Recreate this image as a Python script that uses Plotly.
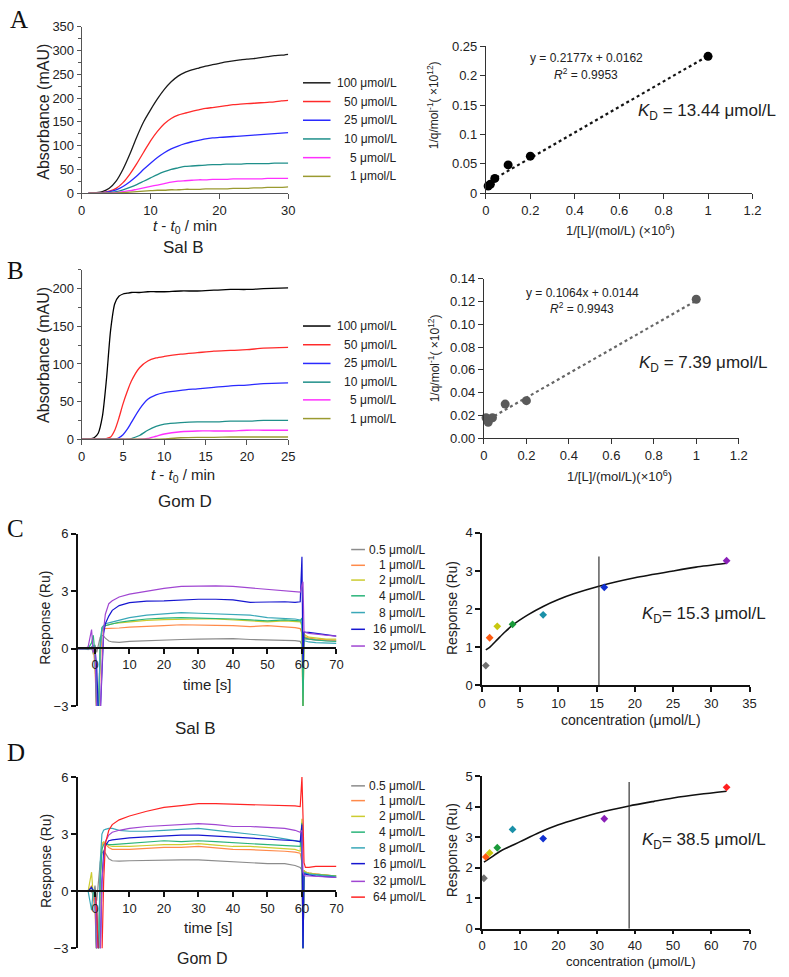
import plotly.graph_objects as go

W, H = 789, 977
def px(x): return x / W
def py(y): return 1 - y / H

# ---------------- DATA ----------------
# Panel A (Sal B, absorbance kinetics)
tA = list(range(1, 31))
A_labels = ["100 μmol/L", "50 μmol/L", "25 μmol/L", "10 μmol/L", "5 μmol/L", "1 μmol/L"]
A_100 = [0,1,3,10,25,50,82,118,150,175,198,218,234,246,254,259,263,267,270,273,276,278,280,282,283,285,287,289,290,292]
A_50  = [0,0,1,4,10,22,40,62,86,110,130,146,157,164,168,172,175,178,180,182,184,186,187,188,189,190,191,192,194,195]
A_25  = [0,0,1,3,7,14,24,36,50,63,75,85,93,99,104,108,111,114,116,117,118,119,120,121,122,123,124,125,126,127]
A_10  = [0,0,0,1,3,7,12,18,25,32,39,45,50,53,56,57,58,59,60,60,61,61,61,62,62,62,62,63,63,63]
A_5   = [0,0,0,0,1,3,5,8,11,14,17,20,23,25,26,27,28,28,29,29,29,30,30,30,30,30,31,31,31,31]
A_1   = [0,0,0,0,0,1,2,3,4,5,6,6,7,7,8,8,8,9,9,9,9,10,10,10,11,11,12,12,12,13]

# Panel A right (double reciprocal)
A_invL = [0.01, 0.02, 0.04, 0.1, 0.2, 1.0]
A_invq = [0.012, 0.015, 0.025, 0.048, 0.063, 0.233]
A_fit_x = [0.0, 1.0]
A_fit_y = [0.0162, 0.2339]

# Panel B (Gom D, absorbance kinetics)
tB = [0,1,1.5,2,2.5,3,3.5,4,4.5,5,5.5,6,7,8,9,10,12,14,16,18,20,22,25]
B_100 = [0,0.5,2,8,30,80,145,180,190,193,194,195,195,196,196,196,197,197,198,199,199,200,201]
B_50  = [0,0,0,0,0,1,3,12,28,47,63,77,95,104,108,110,113,115,117,118,119,121,122]
B_25  = [0,0,0,0,0,0,0,0,2,6,13,22,40,53,59,62,65,67,69,71,72,74,75]
B_10  = [0,0,0,0,0,0,0,0,0,0,0,1,5,12,17,20,22,23,23,24,24,25,25]
B_5   = [0,0,0,0,0,0,0,0,0,0,0,0,0,1,4,7,10,11,11,11,12,12,12]
B_1   = [0,0,0,0,0,0,0,0,0,0,0,0,0,0,0,0.5,2,2.5,2.5,3,3,3,3]

B_invL = [0.01, 0.02, 0.04, 0.1, 0.2, 1.0]
B_invq = [0.018, 0.014, 0.018, 0.030, 0.033, 0.122]
B_fit_x = [0.0, 1.0]
B_fit_y = [0.0144, 0.1208]

# Panel C (Sal B, SPR)
tS = [-5,-3,-2,-1,-0.5,0,0.5,1,1.5,2,2.5,3,4,5,7,10,15,20,25,30,35,40,45,50,55,58,59.5,60,60.3,60.6,61,62,64,67,70]
C_labels = ["0.5 μmol/L", "1 μmol/L", "2 μmol/L", "4 μmol/L", "8 μmol/L", "16 μmol/L", "32 μmol/L"]
C_05 = [0,0,-0.05,0.1,-0.3, 0.2,-0.2,0.3,0.6,0.7, 0.65,0.55,0.4,0.35,0.33, 0.38,0.42,0.45,0.48,0.5, 0.5,0.52,0.48,0.47,0.45, 0.42,0.38,0.2,-0.2,0.5, 0.5,0.5,0.45,0.42,0.4]
C_1  = [0,0,0,0,0.1, -1,-3.5,-3.5,-1,0.9, 1.05,1.05,1.05,1.05,1.08, 1.12,1.15,1.2,1.25,1.22, 1.22,1.2,1.15,1.2,1.15, 1.1,1.05,0.8,-3.5,0.7, 0.6,0.55,0.5,0.48,0.45]
C_2  = [0,0,0,0,0, -0.5,-3.5,-3.5,0,1.0, 1.15,1.2,1.25,1.3,1.35, 1.4,1.48,1.52,1.55,1.55, 1.55,1.5,1.45,1.4,1.45, 1.42,1.4,1.2,-3.5,0.8, 0.7,0.6,0.55,0.5,0.5]
C_4  = [0,0,0,0.3,0.7, -0.3,-3.5,-3.5,0.3,1.1, 1.2,1.2,1.25,1.3,1.38, 1.45,1.55,1.6,1.62,1.6, 1.58,1.55,1.5,1.45,1.5, 1.45,1.45,1.6,-3.5,0.6, 0.55,0.5,0.45,0.4,0.38]
C_8  = [0,0,0,0,0.2, -0.2,-2,-3.5,0,1.0, 1.2,1.3,1.35,1.4,1.5, 1.62,1.75,1.82,1.88,1.85, 1.82,1.8,1.75,1.62,1.6, 1.55,1.5,1.3,0.5,0.4, 0.4,0.35,0.32,0.3,0.28]
C_16 = [0,0,0,0,0, 0,-1,-3.5,-3.5,-1, 0.8,1.3,1.7,2.0,2.25, 2.4,2.48,2.5,2.55,2.58, 2.58,2.55,2.42,2.45,2.45, 2.42,2.45,4.8,-1,0.9, 0.85,0.85,0.8,0.7,0.65]
C_32 = [0,0,0.1,1.0,-0.2, 0,-3.5,-3.5,-3.5,-1, 1.0,1.8,2.35,2.5,2.7, 2.85,3.0,3.15,3.25,3.28, 3.28,3.25,3.18,3.1,3.05, 3.0,2.95,3.3,3.5,0.9, 0.85,0.8,0.75,0.7,0.65]

C_conc = [0.5, 1, 2, 4, 8, 16, 32]
C_resp = [0.52, 1.25, 1.55, 1.6, 1.85, 2.57, 3.27]
C_fit_x = [0.5,1,2,3,4,6,8,10,12,15.3,20,25,28,32]
C_fit_y = [0.93,1.0,1.2,1.4,1.58,1.85,2.07,2.25,2.4,2.6,2.82,3.0,3.1,3.2]
C_KD = 15.3
C_KD_top = 3.38

# Panel D (Gom D, SPR)
D_labels = ["0.5 μmol/L", "1 μmol/L", "2 μmol/L", "4 μmol/L", "8 μmol/L", "16 μmol/L", "32 μmol/L", "64 μmol/L"]
D_05 = [0,0,0,0,-0.2, 0.3,-0.5,0.5,1.5,2.0, 2.1,2.0,1.7,1.6,1.58, 1.6,1.62,1.65,1.65,1.65, 1.6,1.55,1.5,1.45,1.45, 1.35,1.25,1.1,0.9,1.0, 1.0,0.95,0.9,0.85,0.8]
D_1  = [0,0,0,0.3,-0.5, -1,-3.5,-3.5,0.5,2.4, 2.55,2.45,2.3,2.2,2.2, 2.2,2.25,2.3,2.3,2.35, 2.28,2.2,2.18,2.15,2.1, 2.05,2.0,1.5,-3.5,1.1, 1.0,0.95,0.9,0.85,0.8]
D_2  = [0,0,0,1.0,-0.3, 0,-3.5,-3.5,0.8,2.5, 2.6,2.55,2.4,2.35,2.35, 2.35,2.4,2.45,2.45,2.5, 2.42,2.35,2.35,2.3,2.25, 2.2,2.1,3.8,-3.5,1.1, 1.0,0.95,0.9,0.85,0.8]
D_4  = [0,0,0,0.2,0, -0.5,-3.5,-3.5,0.5,2.2, 2.45,2.5,2.45,2.45,2.48, 2.5,2.58,2.65,2.6,2.65, 2.6,2.55,2.5,2.45,2.4, 2.38,2.35,3.6,-3.5,1.0, 0.95,0.9,0.88,0.85,0.8]
D_8  = [0,0,0,-1.0,0.1, 0,-3.5,-3.5,1.5,3.0, 3.2,3.25,3.3,3.3,3.2, 3.15,3.15,3.2,3.25,3.3, 3.2,3.1,3.0,2.9,2.75, 2.65,2.6,3.0,-3.5,1.0, 0.95,0.9,0.85,0.8,0.75]
D_16 = [0,0,0,0.2,0, 0,-1,-3.5,-3.5,0.5, 2.0,2.4,2.65,2.7,2.75, 2.8,2.85,2.9,2.95,2.95, 2.9,2.85,2.8,2.75,2.7, 2.65,2.6,3.5,-3.5,0.9, 0.9,0.85,0.8,0.75,0.72]
D_32 = [0,0,0,0,0, 0,-3.5,-3.5,-3.5,0.5, 1.8,2.6,2.95,3.1,3.2, 3.3,3.4,3.45,3.5,3.55, 3.5,3.4,3.4,3.35,3.3, 3.2,3.1,3.2,1.0,0.85, 0.8,0.8,0.78,0.75,0.72]
D_64 = [0,0,0,0,0, 0,-1,-3.5,-3.5,-3.5, 0.5,2.5,3.2,3.5,3.75, 3.95,4.2,4.4,4.5,4.6, 4.6,4.58,4.55,4.55,4.5, 4.48,4.45,6.0,4.0,1.5, 1.25,1.25,1.3,1.3,1.3]

D_conc = [0.5, 1, 2, 4, 8, 16, 32, 64]
D_resp = [1.65, 2.35, 2.48, 2.65, 3.25, 2.95, 3.6, 4.63]
D_fit_x = [0.5,2,5,10,15,20,25,30,38.5,45,50,57,64]
D_fit_y = [2.18,2.3,2.55,2.85,3.15,3.4,3.6,3.78,4.02,4.17,4.28,4.4,4.5]
D_KD = 38.5
D_KD_top = 4.8

# ---------------- STYLE ----------------
AB_cols = ["#1a1a1a", "#ff2a2a", "#2a2aff", "#1f8f8a", "#ff30ff", "#9a9a30"]
SPR_cols = ["#8c8c8c", "#ff8a4a", "#cccc30", "#2ab47a", "#3aa8b8", "#1616d0", "#a046d2", "#ff2424"]
PT_cols = ["#707070", "#ff5a10", "#c8c810", "#1a9a3a", "#1a90a8", "#1030d0", "#8a20b8", "#ff2020"]

FONT = "Liberation Sans, Arial, sans-serif"
fig = go.Figure()

def add_line(x, y, ax, color, width=1.3, dash=None, shape="linear"):
    fig.add_trace(go.Scatter(x=x, y=y, mode="lines", xaxis="x" + ax, yaxis="y" + ax,
                             line=dict(color=color, width=width, dash=dash, shape=shape, smoothing=0.7),
                             showlegend=False, hoverinfo="skip"))

def add_pts(x, y, ax, color, size, symbol="circle"):
    fig.add_trace(go.Scatter(x=x, y=y, mode="markers", xaxis="x" + ax, yaxis="y" + ax,
                             marker=dict(color=color, size=size, symbol=symbol, line=dict(width=0)),
                             showlegend=False, hoverinfo="skip", cliponaxis=False))

# A left
for ser, c in zip([A_100, A_50, A_25, A_10, A_5, A_1], AB_cols):
    add_line(tA, ser, "", c, 1.3, shape="spline")
# A right
add_line(A_fit_x, A_fit_y, "2", "#111", 2.2, dash="dot")
add_pts(A_invL, A_invq, "2", "#000", 9)
# B left
for ser, c in zip([B_100, B_50, B_25, B_10, B_5, B_1], AB_cols):
    add_line(tB, ser, "3", "#000" if c == "#1a1a1a" else c, 1.3, shape="spline")
# B right
add_line(B_fit_x, B_fit_y, "4", "#666", 2.2, dash="dot")
add_pts(B_invL, B_invq, "4", "#5a5a5a", 9)
# C left
for ser, c in zip([C_05, C_1, C_2, C_4, C_8, C_16, C_32], SPR_cols):
    add_line(tS, ser, "5", c, 1.2)
# C right
add_line(C_fit_x, C_fit_y, "6", "#111", 1.6, shape="spline")
add_line([C_KD, C_KD], [0, C_KD_top], "6", "#333", 1.2)
for xx, yy, c in zip(C_conc, C_resp, PT_cols):
    add_pts([xx], [yy], "6", c, 6, "diamond")
# D left
for ser, c in zip([D_05, D_1, D_2, D_4, D_8, D_16, D_32, D_64], SPR_cols):
    add_line(tS, ser, "7", c, 1.2)
# D right
add_line(D_fit_x, D_fit_y, "8", "#111", 1.6, shape="spline")
add_line([D_KD, D_KD], [0, D_KD_top], "8", "#333", 1.2)
for xx, yy, c in zip(D_conc, D_resp, PT_cols):
    add_pts([xx], [yy], "8", c, 6, "diamond")

def ax(dom, rng, anchor, color="#555", lw=1, fs=13, tl=5, **kw):
    d = dict(domain=dom, range=rng, anchor=anchor, showline=True, linecolor=color, linewidth=lw,
             ticks="outside", ticklen=tl, tickwidth=lw, tickcolor=color, showgrid=False, zeroline=False,
             tickfont=dict(size=fs, color="#222", family=FONT), fixedrange=True)
    d.update(kw)
    return d

layout = dict(width=W, height=977, margin=dict(l=0, r=0, t=0, b=0), paper_bgcolor="white",
              plot_bgcolor="rgba(0,0,0,0)", showlegend=False, font=dict(family=FONT, color="#222"))

# A left
layout["xaxis"] = ax([px(79), px(289)], [0, 30], "y", tickvals=[0, 10, 20, 30])
layout["yaxis"] = ax([py(189), py(20)], [0, 350], "x", tl=4, tickvals=list(range(0, 351, 50)),
                     minor=dict(tickvals=list(range(25, 350, 50)), ticks="outside", ticklen=3, tickcolor="#555"))
# A right
xt = [0, 0.2, 0.4, 0.6, 0.8, 1.0, 1.2]
xtt = ["0", "0.2", "0.4", "0.6", "0.8", "1", "1.2"]
layout["xaxis2"] = ax([px(490), px(761)], [0, 1.2], "y2", lw=1.2, color="#333", tickvals=xt, ticktext=xtt)
layout["yaxis2"] = ax([py(189), py(40)], [0, 0.25], "x2", lw=1.2, color="#333",
                      tickvals=[0, 0.05, 0.1, 0.15, 0.2, 0.25], ticktext=["0", "0.05", "0.1", "0.15", "0.2", "0.25"])
# B left
layout["xaxis3"] = ax([px(79), px(289)], [0, 25], "y3", tickvals=[0, 5, 10, 15, 20, 25])
layout["yaxis3"] = ax([py(439), py(267)], [0, 225], "x3", tl=4, tickvals=[0, 50, 100, 150, 200],
                      minor=dict(tickvals=[25, 75, 125, 175, 225], ticks="outside", ticklen=3, tickcolor="#555"))
# B right
layout["xaxis4"] = ax([px(488), px(747)], [0, 1.2], "y4", lw=1.2, color="#333", tickvals=xt, ticktext=xtt)
layout["yaxis4"] = ax([py(438), py(276)], [0, 0.14], "x4", lw=1.2, color="#333",
                      tickvals=[0, 0.02, 0.04, 0.06, 0.08, 0.10, 0.12, 0.14], tickformat=".2f")
# C left
layout["xaxis5"] = ax([px(75), px(338)], [-5, 70], "free", color="#111", lw=1.5,
                      position=py(651), tickvals=list(range(0, 71, 10)))
layout["yaxis5"] = ax([py(710), py(535)], [-3, 6], "x5", color="#111", lw=1.5, tickvals=[-3, 0, 3, 6])
# C right
layout["xaxis6"] = ax([px(486), px(758)], [0, 35], "y6", color="#111", lw=1.5, tickvals=list(range(0, 36, 5)))
layout["yaxis6"] = ax([py(689), py(534)], [0, 4], "x6", color="#111", lw=1.5, tickvals=[0, 1, 2, 3, 4])
# D left
layout["xaxis7"] = ax([px(75), px(338)], [-5, 70], "free", color="#111", lw=1.5,
                      position=py(898), tickvals=list(range(0, 71, 10)))
layout["yaxis7"] = ax([py(956), py(782)], [-3, 6], "x7", color="#111", lw=1.5, tickvals=[-3, 0, 3, 6])
# D right
layout["xaxis8"] = ax([px(486), px(758)], [0, 70], "y8", color="#111", lw=1.5, tl=4, tickvals=list(range(0, 71, 10)))
layout["yaxis8"] = ax([py(936), py(781)], [0, 5], "x8", color="#111", lw=1.5, tickvals=[0, 1, 2, 3, 4, 5])

fig.update_layout(**layout)

ann = []
shapes = []
def text(x, y, s, size, angle=0, anchor="center", family=FONT, color="#222"):
    ann.append(dict(x=px(x), y=py(y), xref="paper", yref="paper", text=s, showarrow=False,
                    textangle=angle, xanchor=anchor, yanchor="middle",
                    font=dict(size=size, family=family, color=color)))

# panel letters
for lab, (x, y) in zip("ABCD", [(15, 13), (12, 268), (12, 530), (12, 757)]):
    text(x, y, lab, 25, family="Liberation Serif, Times New Roman, serif", color="#111")

# A
text(40, 106, "Absorbance (mAU)", 16, angle=-90)
text(184, 223, "<i>t</i> - <i>t</i><sub>0</sub> / min", 15)
text(182, 244, "Sal B", 17)
text(437, 100, "1/q/mol<sup>-1</sup>( ×10<sup>12</sup>)", 12, angle=-90)
text(592, 52, "y = 0.2177x + 0.0162", 12)
text(592, 68, "<i>R</i><sup>2</sup> = 0.9953", 12)
text(715, 107, "<i>K</i><sub>D</sub> = 13.44 μmol/L", 17)
text(627, 226, "1/[L]/(mol/L) (×10<sup>6</sup>)", 13)
# B
text(40, 353, "Absorbance (mAU)", 16, angle=-90)
text(182, 476, "<i>t</i> - <i>t</i><sub>0</sub> / min", 15)
text(184, 502, "Gom D", 17)
text(437, 357, "1/q/mol<sup>-1</sup>( ×10<sup>12</sup>)", 12, angle=-90)
text(588, 290, "y = 0.1064x + 0.0144", 12)
text(588, 306, "<i>R</i><sup>2</sup> = 0.9943", 12)
text(711, 363, "<i>K</i><sub>D</sub> = 7.39 μmol/L", 17)
text(626, 476, "1/[L]/(mol/L)(×10<sup>6</sup>)", 13)
# C
text(42, 620, "Response (Ru)", 14, angle=-90)
text(206, 688, "time [s]", 15)
text(195, 733, "Sal B", 17)
text(455, 611, "Response (Ru)", 14, angle=-90)
text(712, 617, "<i>K</i><sub>D</sub>= 15.3 μmol/L", 17)
text(638, 724, "concentration (μmol/L)", 14)
# D
text(42, 867, "Response (Ru)", 14, angle=-90)
text(207, 935, "time [s]", 15)
text(202, 966, "Gom D", 16)
text(455, 857, "Response (Ru)", 14, angle=-90)
text(712, 847, "<i>K</i><sub>D</sub>= 38.5 μmol/L", 17)
text(638, 969, "concentration (μmol/L)", 13)

def legend(rows, labels, cols, x0, x1, xr, fs, lw):
    for y, lab, c in zip(rows, labels, cols):
        shapes.append(dict(type="line", xref="paper", yref="paper", x0=px(x0), x1=px(x1),
                           y0=py(y), y1=py(y), line=dict(color=c, width=lw)))
        text(xr, y, lab, fs, anchor="right")

legend([77, 96, 115, 134, 153, 172], A_labels, AB_cols, 304, 332, 402, 12, 1.5)
legend([324, 343, 362, 381, 399, 418], A_labels, ["#000"] + AB_cols[1:], 304, 332, 402, 12, 1.5)
legend([551, 567, 582, 598, 615, 632, 649], C_labels, SPR_cols[:7], 353, 367, 431, 12, 1.5)
legend([791, 806, 822, 838, 854, 870, 888, 904], D_labels, SPR_cols, 353, 367, 431, 12, 1.5)

fig.update_layout(annotations=ann, shapes=shapes)
fig.write_html("out.html", config={"displayModeBar": False},
               post_script="document.body.style.margin='0';document.body.style.overflow='hidden';")
